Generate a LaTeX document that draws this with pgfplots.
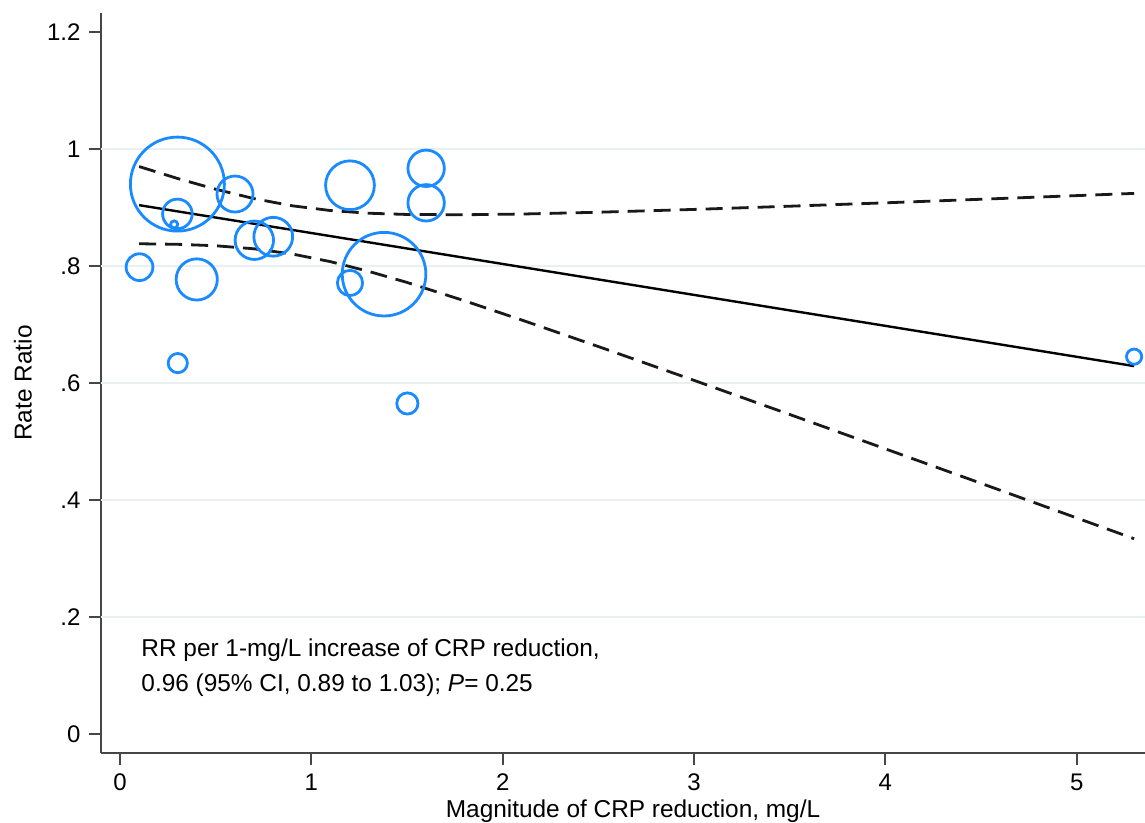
\documentclass[border=0pt]{standalone}
\usepackage{fontspec}
\setmainfont{Liberation Sans}
\usepackage{pgfplots}
\pgfplotsset{compat=1.18}
\definecolor{bub}{RGB}{25,138,255}
\definecolor{axgray}{RGB}{70,70,70}
\definecolor{gridc}{RGB}{232,240,242}

\pgfplotstableread{
x y r
0.102 0.798 6.7
0.283 0.871 1.8
0.300 0.889 7.4
0.302 0.634 4.8
0.300 0.940 23.5
0.401 0.777 10.3
0.601 0.923 9.0
0.702 0.844 9.6
0.801 0.850 9.7
1.202 0.938 12.2
1.202 0.771 6.3
1.380 0.786 20.9
1.600 0.967 9.1
1.600 0.908 9.1
1.502 0.565 5.3
5.300 0.645 3.8
}\bubbles

\pgfplotstableread{
x up lo
0.1 0.9700 0.8380
0.3 0.9497 0.8371
0.5 0.9312 0.8346
0.7 0.9152 0.8294
0.9 0.9029 0.8205
1.1 0.8948 0.8074
1.3 0.8902 0.7908
1.5 0.8881 0.7719
1.8 0.8876 0.7406
2.1 0.8888 0.7076
2.5 0.8919 0.6623
3.0 0.8967 0.6045
3.5 0.9022 0.5462
4.0 0.9080 0.4874
4.5 0.9141 0.4285
5.0 0.9203 0.3693
5.3 0.9241 0.3338
}\ci

\begin{document}
\fontsize{12.2}{14}\selectfont
\begin{tikzpicture}
\begin{axis}[
  at={(0,0)}, anchor=south west,
  scale only axis, width=522pt, height=370pt,
  xmin=-0.0993, xmax=5.357, ymin=-0.0325, ymax=1.2325,
  axis lines*=left,
  axis line style={axgray, line width=1pt},
  xtick={0,1,2,3,4,5}, xticklabels={0,1,2,3,4,5},
  ytick={0,0.2,0.4,0.6,0.8,1,1.2}, yticklabels={0,.2,.4,.6,.8,1,1.2},
  tick align=outside, major tick length=6pt,
  tick style={axgray, line width=1pt},
  /pgf/number format/assume math mode=true,
  ticklabel style={font=\fontsize{12}{13}\selectfont},
  extra y ticks={0.2,0.4,0.6,0.8,1},
  extra y tick labels={,,,,},
  extra y tick style={grid=major, major grid style={gridc, line width=0.8pt}, major tick length=0pt},
  xlabel={Magnitude of CRP reduction, mg/L},
  xlabel style={at={(axis description cs:0.5096,-0.0865)}, anchor=base, inner sep=0pt},
  ylabel={Rate Ratio},
  ylabel style={at={(axis description cs:-0.0664,0.5)}, anchor=base, inner sep=0pt},
]
\addplot[scatter, only marks, mark=o, line width=1.4pt,
  scatter/use mapped color={draw=bub, fill=none},
  visualization depends on={\thisrow{r}\as\rr},
  scatter/@pre marker code/.append style={/tikz/mark size=\rr pt}]
  table[x=x, y=y] {\bubbles};
\addplot[black, line width=1.2pt] coordinates {(0.1,0.9040) (5.3,0.6289)};
\addplot[black!90, line width=1.4pt, dash pattern=on 8.5pt off 4.5pt] table[x=x, y=up] {\ci};
\addplot[black!90, line width=1.4pt, dash pattern=on 8.5pt off 4.5pt] table[x=x, y=lo] {\ci};
\node[anchor=base west, inner sep=0pt] at (axis cs:0.11,0.1316) {RR per 1-mg/L increase of CRP reduction,};
\node[anchor=base west, inner sep=0pt] at (axis cs:0.11,0.072) {0.96 (95\% CI, 0.89 to 1.03); \textit{P}= 0.25};
\end{axis}
\pgfresetboundingbox
\useasboundingbox (-50.5pt,-35pt) rectangle (522pt,376.5pt);
\end{tikzpicture}
\end{document}
